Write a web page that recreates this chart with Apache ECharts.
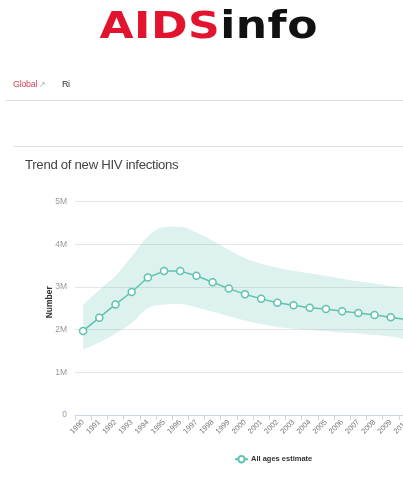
<!DOCTYPE html>
<html>
<head>
<meta charset="utf-8">
<script src="https://cdn.jsdelivr.net/npm/echarts@6/dist/echarts.min.js"></script>
<style>
  html, body { margin: 0; padding: 0; background: #fff; width: 403px; height: 482px; overflow: hidden; }
  #page { position: relative; width: 403px; height: 482px; overflow: hidden; font-family: "Liberation Sans", Arial, sans-serif; }
  #logo { position: absolute; left: 7px; top: 4px; width: 403px; text-align: center; }
  #logo span.word { display: inline-block; font-family: "DejaVu Sans", sans-serif; font-weight: bold; font-size: 37px; letter-spacing: 0.4px; transform: scaleX(1.19); transform-origin: center; line-height: 44px; }
  #logo .red { color: #e2132f; }
  #logo .blk { color: #111; }
  #crumb { position: absolute; left: 13px; top: 79px; font-size: 9px; color: #d9475a; letter-spacing: -0.3px; }
  #crumb .arr { color: #aaa; font-size: 8px; margin-left: 2px; }
  #crumb .cur { color: #333; margin-left: 16px; }
  .rule { position: absolute; height: 1px; background: #dedede; }
  #title { position: absolute; left: 25px; top: 157px; font-size: 13.2px; color: #444; letter-spacing: -0.3px; }
  #chart { position: absolute; left: 0; top: 0; width: 430px; height: 482px; }
</style>
</head>
<body>
<div id="page">
  <div id="chart"></div>
  <div id="logo"><span class="word"><span class="red">AIDS</span><span class="blk">info</span></span></div>
  <div id="crumb">Global<span class="arr">↗</span><span class="cur">Ri</span></div>
  <div class="rule" style="left:6px; right:0; top:100px;"></div>
  <div class="rule" style="left:14px; right:0; top:146px;"></div>
  <div id="title">Trend of new HIV infections</div>
</div>
<script>
// Years on the category axis
const years = ['1990','1991','1992','1993','1994','1995','1996','1997','1998','1999',
               '2000','2001','2002','2003','2004','2005','2006','2007','2008','2009','2010'];

// New HIV infections, all ages (point estimate)
const estimate = [1.97e6, 2.28e6, 2.59e6, 2.88e6, 3.22e6, 3.37e6, 3.37e6, 3.26e6, 3.11e6, 2.96e6,
                  2.83e6, 2.72e6, 2.63e6, 2.57e6, 2.51e6, 2.48e6, 2.43e6, 2.39e6, 2.34e6, 2.29e6, 2.23e6];

// Uncertainty bounds
const upper = [2.59e6, 2.93e6, 3.26e6, 3.71e6, 4.18e6, 4.40e6, 4.41e6, 4.28e6, 4.08e6, 3.87e6,
               3.67e6, 3.54e6, 3.45e6, 3.38e6, 3.32e6, 3.26e6, 3.19e6, 3.13e6, 3.08e6, 3.02e6, 2.97e6];
const lower = [1.53e6, 1.70e6, 1.91e6, 2.15e6, 2.50e6, 2.59e6, 2.60e6, 2.52e6, 2.42e6, 2.32e6,
               2.21e6, 2.13e6, 2.06e6, 2.02e6, 1.99e6, 1.96e6, 1.93e6, 1.91e6, 1.875e6, 1.84e6, 1.77e6];

// Y-axis ticks
const yTicks = [0, 1e6, 2e6, 3e6, 4e6, 5e6];

const teal = '#5fc2b0';
const bandWidth = upper.map((u, i) => u - lower[i]);

const chart = echarts.init(document.getElementById('chart'), null, { renderer: 'canvas' });
chart.setOption({
  animation: false,
  textStyle: { fontFamily: '"Liberation Sans", Arial, sans-serif' },
  grid: { left: 75, right: 15, top: 201.5, bottom: 67, containLabel: false },
  legend: {
    left: 229, top: 450,
    itemWidth: 13, itemHeight: 8, itemGap: 4,
    data: ['All ages estimate'],
    textStyle: { fontSize: 7.5, color: '#333', fontWeight: 'bold', padding: [0, 0, 0, -2] }
  },
  xAxis: {
    type: 'category',
    data: years,
    boundaryGap: true,
    axisLine: { lineStyle: { color: '#ccd6eb', width: 1 } },
    axisTick: { show: true, alignWithLabel: false, length: 5, lineStyle: { color: '#ccd6eb' } },
    axisLabel: { rotate: 45, fontSize: 7.5, color: '#777', margin: 6, interval: 0 }
  },
  yAxis: {
    type: 'value',
    min: yTicks[0],
    max: yTicks[yTicks.length - 1],
    interval: 1e6,
    name: 'Number',
    nameLocation: 'middle',
    nameGap: 21,
    nameMoveOverlap: false,
    nameRotate: 90,
    nameTextStyle: { fontSize: 8.5, fontWeight: 'bold', color: '#333', padding: [0, 0, 0, 12] },
    axisLine: { show: false },
    axisTick: { show: false },
    axisLabel: {
      fontSize: 8.5, color: '#999', margin: 8,
      formatter: v => v === 0 ? '0' : (v / 1e6) + 'M'
    },
    splitLine: { lineStyle: { color: '#e6e6e6', width: 1 } }
  },
  series: [
    {
      name: 'lower', type: 'line', stack: 'band', data: lower, smooth: 0.35,
      symbol: 'none', lineStyle: { opacity: 0 }, silent: true, z: 1
    },
    {
      name: 'range', type: 'line', stack: 'band', data: bandWidth, smooth: 0.35,
      symbol: 'none', lineStyle: { opacity: 0 },
      areaStyle: { color: 'rgba(95,194,176,0.30)' }, silent: true, z: 1
    },
    {
      name: 'All ages estimate', type: 'line', data: estimate,
      color: teal,
      lineStyle: { color: teal, width: 1.5 },
      symbol: 'circle', symbolSize: 7,
      itemStyle: { color: '#fff', borderColor: teal, borderWidth: 1.5 },
      z: 3
    }
  ]
});
</script>
</body>
</html>
